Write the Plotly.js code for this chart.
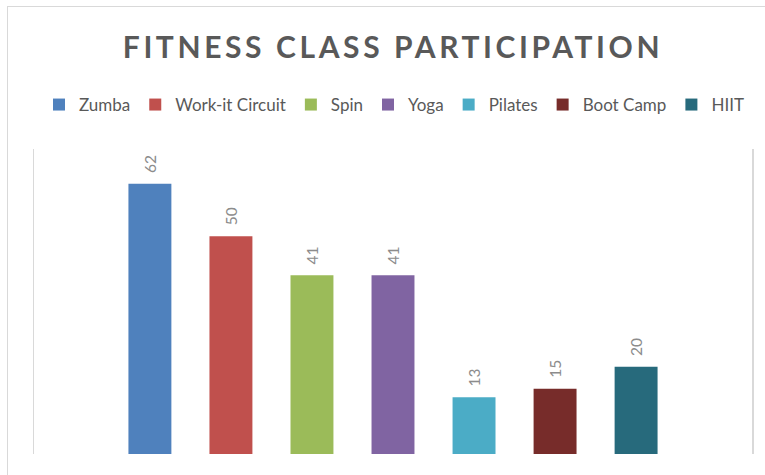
<!DOCTYPE html>
<html><head><meta charset="utf-8">
<script src="https://cdn.plot.ly/plotly-3.0.1.min.js"></script>
<style>
html,body{margin:0;padding:0;background:#fff;overflow:hidden;width:765px;height:475px}
#frame{position:absolute;left:7px;top:6px;width:800px;height:520px;border:1.5px solid #d9d9d9;}
#chart{position:absolute;left:0;top:0;width:765px;height:475px}
.gtitle{letter-spacing:3.6px}
</style></head><body>
<div id="frame"></div><div id="chart"></div>
<script>
const categories = ['Zumba','Work-it Circuit','Spin','Yoga','Pilates','Boot Camp','HIIT'];
const participants = [62, 50, 41, 41, 13, 15, 20];
const colors = ['#4f81bd','#c0504d','#9bbb59','#8064a2','#4bacc6','#772c2a','#276a7c'];
const groupLabel = ['Participation'];

const traces = categories.map((name, i) => ({
  type: 'bar',
  name: name,
  x: groupLabel,
  y: [participants[i]],
  marker: {color: colors[i]},
  texttemplate: '\u00a0\u00a0%{y}',
  textposition: 'outside',
  textangle: -90,
  constraintext: 'none',
  cliponaxis: false,
  textfont: {family: 'Lato', size: 15.5, color: '#8c8c8c'},
  hoverinfo: 'skip'
}));

const layout = {
  width: 765, height: 475,
  paper_bgcolor: 'rgba(0,0,0,0)', plot_bgcolor: 'rgba(0,0,0,0)',
  margin: {l: 34, r: 13, t: 149, b: 21},
  title: {
    text: 'FITNESS CLASS PARTICIPATION',
    font: {family: 'Lato', size: 30, weight: 700, color: '#595959'},
    x: 0.5, xref: 'paper', xanchor: 'center',
    y: 1 - 47/475, yref: 'container', yanchor: 'middle'
  },
  showlegend: true,
  legend: {
    orientation: 'h', xref: 'container', yref: 'container',
    x: 0.515, xanchor: 'center', y: 1 - 105/475, yanchor: 'middle',
    font: {family: 'Lato', size: 17, color: '#595959'},
    itemwidth: 30, traceorder: 'normal', itemclick: false
  },
  barmode: 'group',
  bargap: 0.21,
  bargroupgap: 0.47,
  xaxis: {showticklabels: false, showline: false, showgrid: false, zeroline: false, ticks: '', fixedrange: true},
  yaxis: {range: [0, 70], showticklabels: false, ticks: '', showgrid: false, zeroline: false,
          showline: true, mirror: true, linecolor: '#d9d9d9', linewidth: 1.5, fixedrange: true}
};

Plotly.newPlot('chart', traces, layout, {displayModeBar: false, staticPlot: true});
</script>
</body></html>
